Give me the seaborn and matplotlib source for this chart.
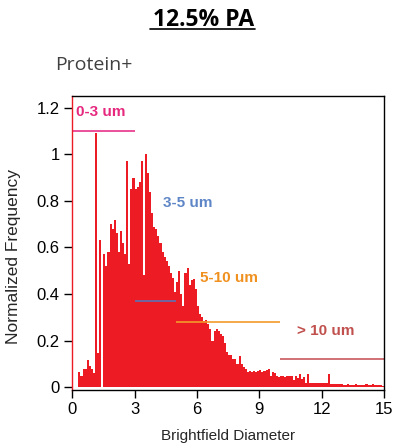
import numpy as np
import pandas as pd
import seaborn as sns
from matplotlib import pyplot as plt
from matplotlib.lines import Line2D
from matplotlib.ticker import FuncFormatter

# histogram, bins of 0.1 starting at 0
bin_width = 0.1
freq = [
    0, 0, 0, 0.066, 0.05, 0.08, 0.08, 0.115, 0.09, 0.08,
    0.06, 1.09, 0.145, 0.63, 0.0, 0.57, 0.52, 0.58, 0.70, 0.68,
    0.72, 0.66, 0.58, 0.67, 0.62, 0.57, 0.97, 0.53, 0.85, 0.90,
    0.85, 0.86, 0.88, 0.97, 0.48, 1.00, 0.92, 0.84, 0.75, 0.69,
    0.68, 0.65, 0.62, 0.58, 0.56, 0.54, 0.52, 0.49, 0.47, 0.41,
    0.45, 0.50, 0.40, 0.35, 0.49, 0.51, 0.44, 0.46, 0.465, 0.42,
    0.35, 0.316, 0.30, 0.285, 0.29, 0.27, 0.25, 0.20, 0.24, 0.25,
    0.24, 0.23, 0.22, 0.19, 0.15, 0.14, 0.14, 0.12, 0.12, 0.10,
    0.135, 0.10, 0.085, 0.08, 0.065, 0.07, 0.066, 0.07, 0.065, 0.07,
    0.072, 0.065, 0.068, 0.072, 0.08, 0.05, 0.066, 0.06, 0.05, 0.044,
    0.05, 0.048, 0.044, 0.05, 0.046, 0.047, 0.03, 0.05, 0.04, 0.058,
    0.035, 0.045, 0.016, 0.055, 0.02, 0.017, 0.02, 0.018, 0.018, 0.018,
    0.018, 0.016, 0.018, 0.058, 0.015, 0.013, 0.013, 0.014, 0.012, 0.013,
    0.009, 0.01, 0.012, 0.011, 0.009, 0.01, 0.012, 0.009, 0.01, 0.011,
    0.01, 0.012, 0.009, 0.01, 0.012, 0.01, 0.011, 0.009, 0.008, 0.003,
]
centers = np.arange(len(freq)) * bin_width + bin_width / 2
edges = list(np.arange(len(freq) + 1) * bin_width)
hist = pd.DataFrame({'diam': centers, 'freq': freq})

# size ranges
range_labels = ['0-3 um', '3-5 um', '5-10 um', '> 10 um']
range_start = [0, 3, 5, 10]
range_end = [3, 5, 10, 15]
range_level = [1.10, 0.37, 0.28, 0.12]
range_colors = ['#E8318A', '#5B72B5', '#F39A2A', '#C8575E']
text_colors = ['#E6287E', '#5E86C6', '#F0901E', '#C0504D']
text_x = [0.2, 4.35, 6.15, 10.8]
text_y = [1.18, 0.79, 0.47, 0.24]

sns.set_style('ticks')
plt.rcParams['font.family'] = ['Liberation Sans', 'DejaVu Sans']

fig = plt.figure(figsize=(3.94, 4.48), dpi=100)
ax = fig.add_axes([0.183, 0.1295, 0.792, 0.656])

sns.histplot(data=hist, x='diam', weights='freq', bins=edges, color='#ED1C24',
             alpha=1, linewidth=0, ax=ax)

ax.hlines(range_level, range_start, range_end, colors=range_colors, linewidth=1.2)
for lab, tx, ty, c in zip(range_labels, text_x, text_y, text_colors):
    ax.text(tx, ty, lab, color=c, fontsize=11, fontweight='bold', va='center')

ax.set_xlim(0, 15)
ax.set_ylim(-0.012, 1.25)
ax.set_xticks([0, 3, 6, 9, 12, 15])
ax.set_yticks([0, 0.2, 0.4, 0.6, 0.8, 1.0, 1.2])
ax.yaxis.set_major_formatter(FuncFormatter(lambda v, p: '%g' % v))
ax.tick_params(direction='out', length=6, width=1, labelsize=12, colors='black', pad=3)
ax.set_xlabel('Brightfield Diameter', fontsize=11, labelpad=8)
ax.set_ylabel('Normalized Frequency', fontsize=12.5, labelpad=4)
ax.yaxis.set_label_coords(-0.165, 0.455)
for s in ax.spines.values():
    s.set_color('black')
    s.set_linewidth(1)
ax.spines['left'].set_color('#ED1C24')

fig.text(0.516, 0.956, '12.5% PA', ha='center', va='center', fontsize=16.5,
         fontweight='bold', family='Open Sans', color='black')
fig.add_artist(Line2D([0.381, 0.647], [0.936, 0.936], color='black', linewidth=1.2))
fig.text(0.14, 0.855, 'Protein+', ha='left', va='center', fontsize=14,
         family='Open Sans', color='#404040')

fig.savefig('out.png', dpi=100)
